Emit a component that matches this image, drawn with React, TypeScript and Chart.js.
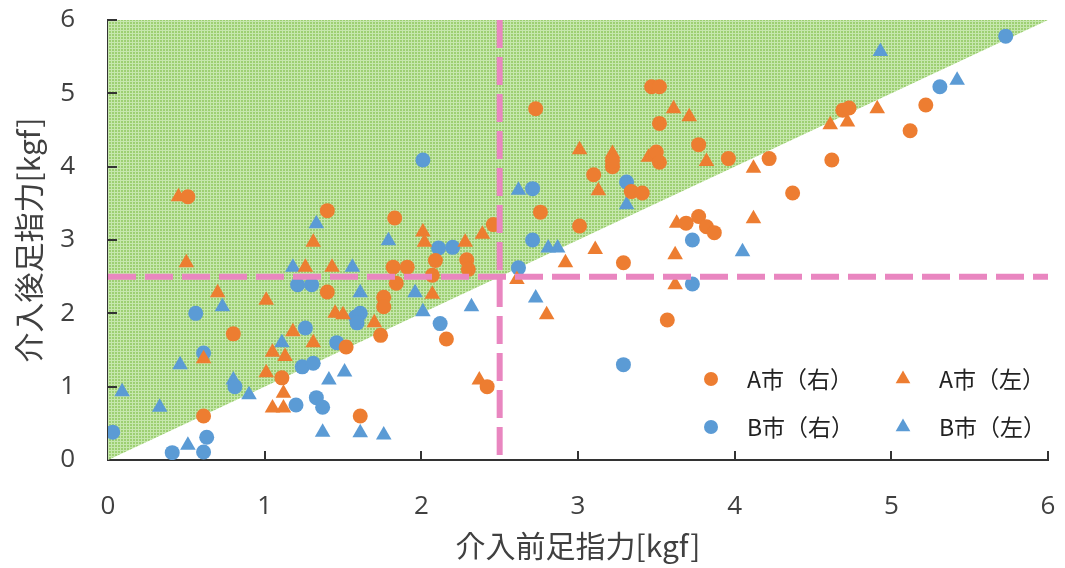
import React, { useEffect, useRef } from 'react';
import { Chart, registerables } from 'chart.js';

Chart.register(...registerables);

// A市（右）: orange circles [before, after]
const aRightPts: [number, number][] = [
  [0.51, 3.59], [0.61, 0.6], [0.8, 1.72], [1.11, 1.12], [1.4, 3.4], [1.83, 3.3],
  [1.4, 2.29], [1.82, 2.63], [1.91, 2.63], [1.84, 2.41], [1.76, 2.22], [1.76, 2.09],
  [1.74, 1.7], [1.52, 1.54], [2.16, 1.65], [1.61, 0.6], [2.09, 2.72], [2.07, 2.52],
  [2.29, 2.73], [2.3, 2.6], [2.46, 3.21], [2.42, 1.0], [2.73, 4.79], [2.76, 3.38],
  [3.01, 3.19], [3.1, 3.89], [3.22, 4.0], [3.22, 4.08], [3.34, 3.66], [3.41, 3.64],
  [3.47, 5.09], [3.52, 5.09], [3.52, 4.59], [3.5, 4.2], [3.52, 4.06], [3.77, 4.3],
  [3.96, 4.11], [4.22, 4.11], [3.69, 3.23], [3.77, 3.32], [3.82, 3.18], [3.87, 3.1],
  [3.29, 2.69], [3.57, 1.91], [4.37, 3.64], [4.62, 4.09], [4.69, 4.77], [4.73, 4.8],
  [5.12, 4.49], [5.22, 4.84],
];

// A市（左）: orange triangles
const aLeftPts: [number, number][] = [
  [0.45, 3.59], [0.5, 2.69], [0.7, 2.28], [1.01, 2.18], [0.61, 1.38], [1.18, 1.75],
  [1.05, 1.47], [1.13, 1.41], [1.01, 1.19], [1.12, 0.91], [1.05, 0.71], [1.12, 0.71],
  [1.31, 2.97], [1.26, 2.63], [1.43, 2.63], [1.31, 1.6], [1.45, 2.0], [1.5, 1.98],
  [1.7, 1.87], [2.01, 3.11], [2.02, 2.97], [2.07, 2.26], [2.28, 2.97], [2.39, 3.08],
  [2.37, 1.09], [2.61, 2.46], [2.8, 1.98], [2.92, 2.69], [3.01, 4.23], [3.11, 2.87],
  [3.13, 3.67], [3.22, 4.18], [3.45, 4.13], [3.61, 4.79], [3.62, 2.8], [3.62, 2.39],
  [3.63, 3.23], [3.71, 4.68], [3.82, 4.07], [4.12, 3.98], [4.12, 3.29], [4.61, 4.57],
  [4.72, 4.61], [4.91, 4.79],
];

// B市（右）: blue circles
const bRightPts: [number, number][] = [
  [0.03, 0.38], [0.41, 0.1], [0.61, 0.11], [0.63, 0.31], [0.56, 2.0], [0.61, 1.46],
  [0.81, 1.0], [1.2, 0.75], [1.21, 2.39], [1.3, 2.39], [1.26, 1.8], [1.24, 1.27],
  [1.31, 1.32], [1.46, 1.6], [1.33, 0.85], [1.37, 0.72], [1.58, 1.95], [1.61, 2.0],
  [1.59, 1.87], [2.01, 4.09], [2.11, 2.89], [2.2, 2.9], [2.12, 1.86], [2.62, 2.62],
  [2.71, 3.7], [2.71, 3.0], [3.29, 1.3], [3.31, 3.79], [3.73, 3.0], [3.73, 2.4],
  [5.31, 5.09], [5.73, 5.78],
];

// B市（左）: blue triangles
const bLeftPts: [number, number][] = [
  [0.09, 0.93], [0.33, 0.72], [0.46, 1.3], [0.51, 0.2], [0.73, 2.09], [0.8, 1.09],
  [0.9, 0.89], [1.11, 1.6], [1.18, 2.63], [1.33, 3.22], [1.41, 1.09], [1.51, 1.2],
  [1.37, 0.38], [1.56, 2.63], [1.61, 2.28], [1.61, 0.37], [1.76, 0.34], [1.79, 2.99],
  [1.96, 2.28], [2.01, 2.02], [2.32, 2.09], [2.62, 3.68], [2.73, 2.21], [2.81, 2.89],
  [2.87, 2.89], [3.31, 3.48], [4.05, 2.84], [4.93, 5.57], [5.42, 5.18],
];

const seriesLabels = ['A市（右）', 'A市（左）', 'B市（右）', 'B市（左）'];
const xTicks = [0, 1, 2, 3, 4, 5, 6];
const yTicks = [0, 1, 2, 3, 4, 5, 6];
const threshold = 2.5;
const axisMin = 0;
const axisMax = 6;
const xTitle = '介入前足指力[kgf]';
const yTitle = '介入後足指力[kgf]';

const ORANGE = '#ED7D31';
const BLUE = '#5B9BD5';
const PINK = '#E986C0';
const TEXT = '#404040';

function makePattern(ctx: CanvasRenderingContext2D) {
  const c = document.createElement('canvas');
  c.width = 3;
  c.height = 3;
  const g = c.getContext('2d')!;
  g.fillStyle = '#9dcf72';
  g.fillRect(0, 0, 3, 3);
  g.fillStyle = '#c6e7ad';
  g.fillRect(0, 0, 3, 1);
  g.fillRect(0, 0, 1, 3);
  return ctx.createPattern(c, 'repeat');
}

const innerTicks = {
  id: 'innerTicks',
  afterDraw(chart: any) {
    const { ctx, chartArea, scales } = chart;
    const x = scales.x;
    const y = scales.y;
    ctx.save();
    ctx.strokeStyle = '#333333';
    ctx.lineWidth = 2;
    for (const v of xTicks) {
      if (v === axisMin) continue;
      const px = Math.round(x.getPixelForValue(v));
      ctx.beginPath();
      ctx.moveTo(px, chartArea.bottom);
      ctx.lineTo(px, chartArea.bottom - 9);
      ctx.stroke();
    }
    for (const v of yTicks) {
      if (v === axisMin) continue;
      const py = Math.round(y.getPixelForValue(v));
      ctx.beginPath();
      ctx.moveTo(chartArea.left, py);
      ctx.lineTo(chartArea.left + 9, py);
      ctx.stroke();
    }
    ctx.restore();
  },
};

function drawSymbol(ctx: CanvasRenderingContext2D, style: string, cx: number, cy: number, color: string) {
  ctx.fillStyle = color;
  ctx.beginPath();
  if (style === 'circle') {
    ctx.arc(cx, cy, 7, 0, Math.PI * 2);
  } else {
    const r = 8.5;
    ctx.moveTo(cx, cy - r);
    ctx.lineTo(cx + r * Math.sin((2 * Math.PI) / 3), cy - r * Math.cos((2 * Math.PI) / 3));
    ctx.lineTo(cx + r * Math.sin((4 * Math.PI) / 3), cy - r * Math.cos((4 * Math.PI) / 3));
    ctx.closePath();
  }
  ctx.fill();
}

const customLegend = {
  id: 'customLegend',
  afterDraw(chart: any) {
    const { ctx, chartArea } = chart;
    const items = [
      { label: seriesLabels[0], style: 'circle', color: ORANGE, col: 0, row: 0 },
      { label: seriesLabels[1], style: 'triangle', color: ORANGE, col: 1, row: 0 },
      { label: seriesLabels[2], style: 'circle', color: BLUE, col: 0, row: 1 },
      { label: seriesLabels[3], style: 'triangle', color: BLUE, col: 1, row: 1 },
    ];
    ctx.save();
    ctx.font = "23px 'Noto Sans CJK JP', sans-serif";
    ctx.textBaseline = 'middle';
    ctx.textAlign = 'left';
    for (const it of items) {
      const sx = chartArea.left + 603 + it.col * 192;
      const sy = chartArea.top + 359 + it.row * 48;
      drawSymbol(ctx, it.style, sx, sy, it.color);
      ctx.fillStyle = '#222222';
      ctx.fillText(it.label, sx + 36, sy);
    }
    ctx.restore();
  },
};

const resetPadding = (s: any) => {
  s.paddingLeft = 0;
  s.paddingRight = 0;
  s.paddingTop = 0;
  s.paddingBottom = 0;
};

export default function App() {
  const canvasRef = useRef<HTMLCanvasElement | null>(null);

  useEffect(() => {
    const canvas = canvasRef.current;
    if (!canvas) return;
    const ctx = canvas.getContext('2d')!;
    const pattern = makePattern(ctx);
    const toXY = (pts: [number, number][]) => pts.map(([x, y]) => ({ x, y }));

    const chart = new Chart(ctx, {
      type: 'scatter',
      data: {
        datasets: [
          {
            type: 'line',
            label: 'vline',
            data: [{ x: threshold, y: axisMax }, { x: threshold, y: -0.05 }],
            borderColor: PINK,
            borderWidth: 6,
            borderDash: [28, 9],
            pointRadius: 0,
            fill: false,
            clip: false,
            order: 0,
          } as any,
          {
            type: 'line',
            label: 'hline',
            data: [{ x: axisMin, y: threshold }, { x: axisMax, y: threshold }],
            borderColor: PINK,
            borderWidth: 6,
            borderDash: [28, 9],
            pointRadius: 0,
            fill: false,
            order: 0,
          } as any,
          {
            label: seriesLabels[0],
            data: toXY(aRightPts),
            pointStyle: 'circle',
            pointRadius: 7.5,
            backgroundColor: ORANGE,
            borderColor: ORANGE,
            borderWidth: 0,
            order: 3,
          },
          {
            label: seriesLabels[1],
            data: toXY(aLeftPts),
            pointStyle: 'triangle',
            pointRadius: 9,
            backgroundColor: ORANGE,
            borderColor: ORANGE,
            borderWidth: 0,
            order: 3,
          },
          {
            label: seriesLabels[2],
            data: toXY(bRightPts),
            pointStyle: 'circle',
            pointRadius: 7.5,
            backgroundColor: BLUE,
            borderColor: BLUE,
            borderWidth: 0,
            order: 3,
          },
          {
            label: seriesLabels[3],
            data: toXY(bLeftPts),
            pointStyle: 'triangle',
            pointRadius: 9,
            backgroundColor: BLUE,
            borderColor: BLUE,
            borderWidth: 0,
            order: 3,
          },
          {
            type: 'line',
            label: 'area',
            data: [{ x: axisMin, y: axisMin }, { x: axisMax, y: axisMax }],
            fill: 'end',
            backgroundColor: pattern as any,
            borderWidth: 0,
            borderColor: 'rgba(0,0,0,0)',
            pointRadius: 0,
            order: 10,
          } as any,
        ],
      },
      options: {
        responsive: false,
        animation: false,
        layout: { padding: { left: 0, right: 17, top: 20, bottom: 0 } },
        plugins: {
          legend: { display: false },
          tooltip: { enabled: false },
        },
        scales: {
          x: {
            type: 'linear',
            min: axisMin,
            max: axisMax,
            afterFit: (s: any) => {
              s.height = 108;
              resetPadding(s);
            },
            afterBuildTicks: (s: any) => {
              s.ticks = xTicks.map((v) => ({ value: v }));
            },
            grid: { display: false, drawTicks: false },
            border: { display: true, color: '#333333', width: 2 },
            ticks: {
              font: { family: "'Open Sans', sans-serif", size: 26 },
              color: TEXT,
              padding: 31,
              maxRotation: 0,
            },
            title: {
              display: true,
              text: xTitle,
              color: TEXT,
              font: { family: "'Noto Sans CJK JP', sans-serif", size: 30 },
              padding: { top: 0, bottom: 4 },
            },
          },
          y: {
            type: 'linear',
            min: axisMin,
            max: axisMax,
            afterFit: (s: any) => {
              s.width = 108;
              resetPadding(s);
            },
            afterBuildTicks: (s: any) => {
              s.ticks = yTicks.map((v) => ({ value: v }));
            },
            grid: { display: false, drawTicks: false },
            border: { display: true, color: '#333333', width: 2 },
            ticks: {
              font: { family: "'Open Sans', sans-serif", size: 26 },
              color: TEXT,
              padding: 33,
            },
            title: {
              display: true,
              text: yTitle,
              color: TEXT,
              font: { family: "'Noto Sans CJK JP', sans-serif", size: 30 },
              padding: { top: 11, bottom: 0 },
            },
          },
        },
      },
      plugins: [innerTicks, customLegend],
    });

    return () => {
      chart.destroy();
    };
  }, []);

  return (
    <div style={{ position: 'fixed', left: 0, top: 0, width: 1065, height: 568, background: '#ffffff' }}>
      <canvas ref={canvasRef} width={1065} height={568} style={{ display: 'block' }} />
    </div>
  );
}
